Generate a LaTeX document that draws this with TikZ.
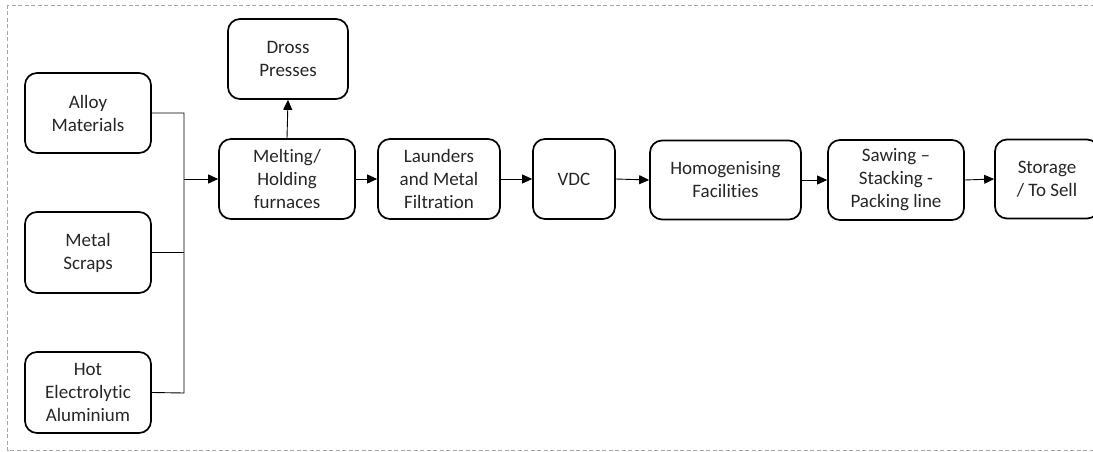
\documentclass[tikz,border=0pt]{standalone}
\usepackage{fontspec}
\setmainfont{Carlito}[Ligatures=NoCommon]
\usetikzlibrary{arrows.meta}
\newcommand\boxfont{\fontsize{19pt}{23pt}\selectfont}
\begin{document}
\begin{tikzpicture}[x=1pt,y=-1pt,
  box/.style={draw=black, line width=1.7pt, rounded corners=12pt, align=center,
    inner sep=2pt, font=\boxfont, text=black!85},
  conn/.style={draw=black, line width=0.9pt},
  arr/.style={conn, -{Triangle[length=10pt,width=9pt]}}]
\clip (0,0) rectangle (1093,452);
\draw[gray!70, dashed, line width=0.8pt, dash pattern=on 4pt off 2.5pt] (7.5,5) rectangle (1100,450.5);
\node[box, minimum width=126pt, minimum height=80pt] (alloy) at (88,113) {Alloy\\Materials};
\node[box, minimum width=126pt, minimum height=81pt] (metal) at (88,252.5) {Metal\\Scraps};
\node[box, minimum width=126pt, minimum height=81pt] (hot) at (88,392.5) {Hot\\Electrolytic\\Aluminium};
\node[box, minimum width=136pt, minimum height=80pt] (melt) at (287,179) {Melting/\\Holding\\furnaces};
\node[box, minimum width=120pt, minimum height=80pt] (dross) at (288,59) {Dross\\Presses};
\node[box, minimum width=122pt, minimum height=80pt] (laund) at (439,179) {Launders\\and Metal\\Filtration};
\node[box, minimum width=82pt, minimum height=80pt] (vdc) at (574,179) {VDC};
\node[box, minimum width=151pt, minimum height=79pt] (homog) at (725.5,180) {Homogenising\\Facilities};
\node[box, minimum width=136pt, minimum height=80pt] (saw) at (896,180) {Sawing –\\Stacking -\\Packing line};
\node[box, minimum width=104pt, minimum height=79pt] (store) at (1047,179) {Storage\\/ To Sell};
\coordinate (jt) at (184,113);
\coordinate (jb) at (184,393);
\draw[conn] (alloy.east) -- (jt) -- (jb) -- (hot.east);
\draw[conn] (metal.east) -- (metal.east -| jt);
\draw[arr] (jt |- melt.west) -- (melt.west);
\draw[arr] (melt.north) -- (dross.south);
\draw[arr] (melt.east) -- (laund.west);
\draw[arr] (laund.east) -- (vdc.west);
\draw[arr] (vdc.east) -- (homog.west);
\draw[arr] (homog.east) -- (saw.west);
\draw[arr] (saw.east) -- (store.west);
\end{tikzpicture}
\end{document}
